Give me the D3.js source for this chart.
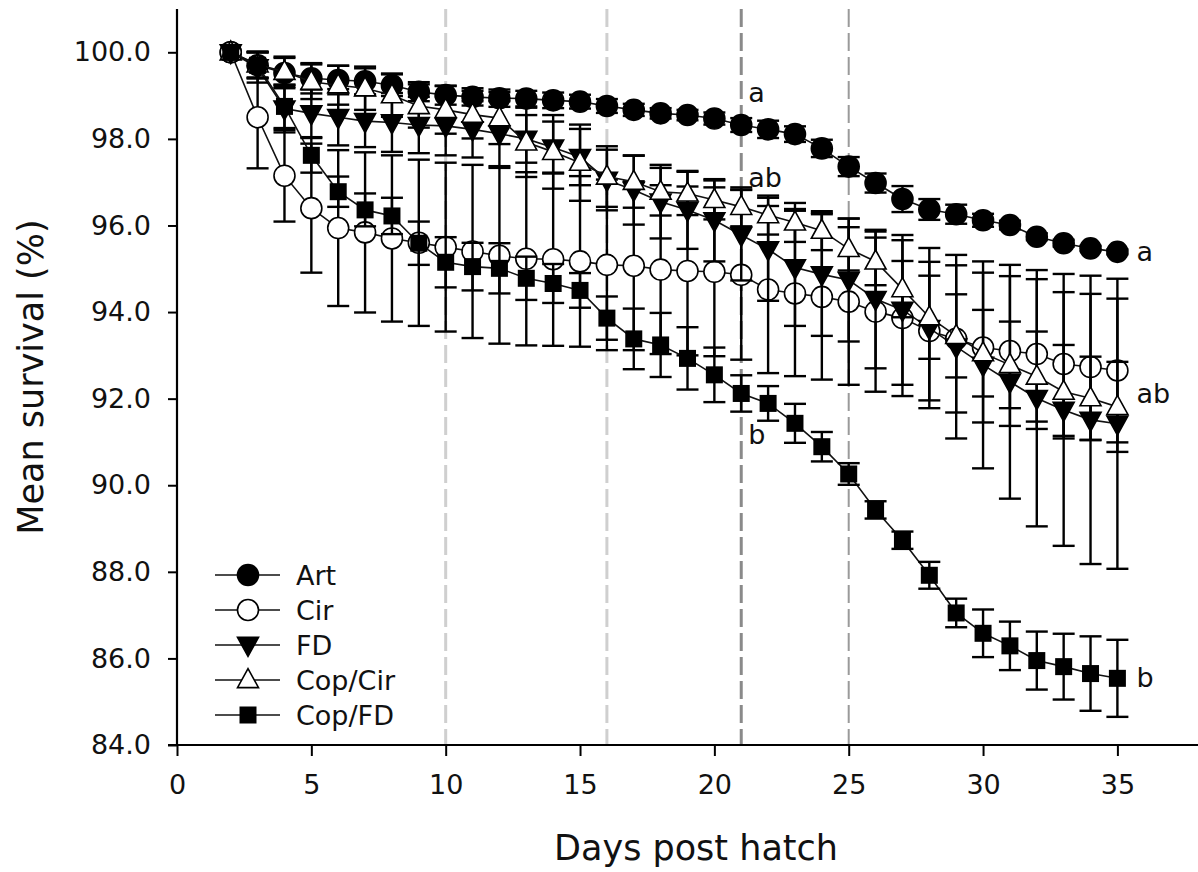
<!DOCTYPE html>
<html>
<head>
<meta charset="utf-8">
<script src="https://cdn.jsdelivr.net/npm/d3@7"></script>
<style>
  html, body { margin: 0; padding: 0; background: #fff; }
  svg { display: block; font-family: "DejaVu Sans", Verdana, sans-serif; }
</style>
</head>
<body>
<svg id="chart" width="1198" height="872"></svg>
<script>
// Days post hatch
const days = [2,3,4,5,6,7,8,9,10,11,12,13,14,15,16,17,18,19,20,21,22,23,24,25,26,27,28,29,30,31,32,33,34,35];

// Mean survival (%) per diet, with error (±)
const art      = [100.0,99.70,99.52,99.40,99.36,99.33,99.24,99.09,99.01,98.97,98.94,98.93,98.89,98.86,98.76,98.67,98.59,98.55,98.47,98.32,98.22,98.11,97.78,97.36,96.98,96.61,96.37,96.26,96.12,96.01,95.74,95.59,95.47,95.39];
const artErr   = [0,0.30,0.35,0.35,0.33,0.30,0.25,0.22,0.22,0.20,0.20,0.18,0.18,0.16,0.16,0.14,0.12,0.12,0.14,0.16,0.20,0.18,0.20,0.22,0.22,0.30,0.24,0.22,0.15,0.10,0.08,0.08,0.06,0.06];

const cir      = [100.0,98.50,97.15,96.40,95.94,95.84,95.70,95.60,95.50,95.40,95.30,95.23,95.22,95.17,95.09,95.07,94.98,94.95,94.93,94.86,94.52,94.43,94.35,94.24,94.01,93.86,93.56,93.38,93.18,93.10,93.03,92.80,92.73,92.65];
const cirErr   = [0,1.18,1.06,1.49,1.80,1.85,1.92,1.92,1.95,2.00,2.03,2.00,2.00,1.97,1.97,1.95,1.95,1.95,1.95,1.96,1.93,1.91,1.91,1.92,1.85,1.80,1.60,1.70,1.73,1.73,1.73,1.66,1.69,1.66];

const fd       = [100.0,99.65,98.70,98.59,98.50,98.41,98.38,98.32,98.30,98.22,98.12,98.00,97.80,97.58,97.05,96.82,96.55,96.36,96.12,95.78,95.45,95.03,94.87,94.74,94.30,94.05,93.63,93.20,92.78,92.39,92.01,91.74,91.51,91.42];
const fdErr    = [0,0.35,0.55,0.55,0.65,0.60,0.68,0.65,0.68,0.65,0.75,0.55,0.60,0.65,0.70,0.80,0.85,0.90,0.95,1.05,1.19,1.35,1.42,1.42,1.60,1.73,1.85,2.12,2.39,2.70,2.96,3.14,3.33,3.35];

const copCir   = [100.0,99.72,99.55,99.32,99.24,99.17,99.01,98.76,98.67,98.56,98.48,97.92,97.70,97.45,97.13,97.01,96.78,96.74,96.59,96.43,96.24,96.07,95.88,95.46,95.17,94.53,93.88,93.45,93.05,92.78,92.51,92.16,92.01,91.81];
const copCirErr= [0,0.30,0.35,0.40,0.45,0.50,0.50,0.50,0.55,0.55,0.60,0.80,0.85,0.88,0.70,0.60,0.55,0.50,0.45,0.45,0.45,0.45,0.45,0.50,0.55,0.65,0.96,0.96,1.00,1.00,1.04,1.08,0.96,1.04];

const copFd    = [100.0,99.70,98.75,97.62,96.78,96.36,96.22,95.59,95.15,95.05,95.01,94.78,94.66,94.50,93.86,93.38,93.24,92.93,92.55,92.12,91.89,91.43,90.89,90.26,89.43,88.73,87.92,87.05,86.58,86.29,85.95,85.81,85.65,85.54];
const copFdErr = [0,0.30,0.50,0.40,0.35,0.38,0.42,0.50,0.58,0.55,0.58,0.50,0.45,0.40,0.50,0.70,0.74,0.72,0.63,0.42,0.40,0.45,0.34,0.25,0.20,0.20,0.31,0.33,0.55,0.56,0.67,0.76,0.86,0.89];

const seriesNames = ["Art","Cir","FD","Cop/Cir","Cop/FD"];
const seriesMarkers = ["circleFilled","circleOpen","triangleDown","triangleUp","square"];

// Period boundaries (days) and significance letters
const phaseDays = [10, 16, 21, 25];
const phaseColors = ["#cfcfcf","#cfcfcf","#8a8a8a","#9a9a9a"];
const phaseWidths = [3, 3, 3, 2];
const midLetters = [{day:21, value:98.32, text:"a", dy:-23}, {day:21, value:96.43, text:"ab", dy:-20}, {day:21, value:92.12, text:"b", dy:51}];
const endLetters = [{day:35, value:95.39, text:"a", dy:0}, {day:35, value:91.81, text:"ab", dy:-13}, {day:35, value:85.54, text:"b", dy:0}];

const yTicks = [84,86,88,90,92,94,96,98,100];
const xTicks = [0,5,10,15,20,25,30,35];

const svg = d3.select("#chart");
const x = d3.scaleLinear().domain([0, 38]).range([177, 1198]);
const y = d3.scaleLinear().domain([84, 101]).range([745, 9]);

// phase boundary lines
phaseDays.forEach((d, i) => {
  svg.append("line")
    .attr("x1", x(d)).attr("x2", x(d))
    .attr("y1", y(101)).attr("y2", y(84))
    .attr("stroke", phaseColors[i]).attr("stroke-width", phaseWidths[i])
    .attr("stroke-dasharray", "18,6");
});

// axes
const fontSize = 27;
const xAxis = svg.append("g").attr("transform", `translate(0,${y(84)})`)
  .call(d3.axisBottom(x).tickValues(xTicks).tickSize(11).tickPadding(19).tickFormat(d3.format("d")));
const yAxis = svg.append("g").attr("transform", `translate(${x(0)},0)`)
  .call(d3.axisLeft(y).tickValues(yTicks).tickSize(9).tickPadding(17).tickFormat(d3.format(".1f")));
[xAxis, yAxis].forEach(g => {
  g.select(".domain").attr("stroke", "#000").attr("stroke-width", 2.2);
  g.selectAll(".tick line").attr("stroke", "#000").attr("stroke-width", 2);
  g.selectAll(".tick text").attr("fill", "#111").style("font-size", fontSize + "px")
    .style("font-family", '"DejaVu Sans", Verdana, sans-serif');
});
// extend the y axis line to the top of the frame and x axis a bit left
yAxis.select(".domain").attr("d", `M-9,${y(84)}H0V${y(101)}`);
xAxis.select(".domain").attr("d", `M${x(0)-9},0H1198`);

// axis titles
svg.append("text")
  .attr("x", 696).attr("y", 860)
  .attr("text-anchor", "middle").style("font-size", "35px").attr("fill", "#111")
  .text("Days post hatch");
svg.append("text")
  .attr("transform", `translate(43,${(y(101) + y(84)) / 2}) rotate(-90)`)
  .attr("text-anchor", "middle").style("font-size", "35px").attr("fill", "#111")
  .text("Mean survival (%)");

// marker shapes
function marker(sel, kind) {
  if (kind === "circleFilled" || kind === "circleOpen") {
    sel.append("circle").attr("r", 10.5)
      .attr("fill", kind === "circleFilled" ? "#000" : "#fff")
      .attr("stroke", "#000").attr("stroke-width", 1.6);
  } else if (kind === "square") {
    sel.append("rect").attr("x", -8.5).attr("y", -8.5).attr("width", 17).attr("height", 17)
      .attr("fill", "#000");
  } else {
    const w = 21, h = 19;
    const p = kind === "triangleUp"
      ? `M0,${-h*0.6}L${w/2},${h*0.4}L${-w/2},${h*0.4}Z`
      : `M0,${h*0.6}L${w/2},${-h*0.4}L${-w/2},${-h*0.4}Z`;
    sel.append("path").attr("d", p)
      .attr("fill", kind === "triangleUp" ? "#fff" : "#000")
      .attr("stroke", "#000").attr("stroke-width", 1.6).attr("stroke-linejoin", "miter");
  }
}

const seriesData = [
  [art, artErr], [cir, cirErr], [fd, fdErr], [copCir, copCirErr], [copFd, copFdErr]
];

const line = d3.line().x(d => x(d.day)).y(d => y(d.v));
seriesData.forEach(([vals, errs], si) => {
  const pts = days.map((d, i) => ({day: d, v: vals[i], e: errs[i]}));
  const g = svg.append("g");
  g.append("path").datum(pts).attr("d", line)
    .attr("fill", "none").attr("stroke", "#111").attr("stroke-width", 1.6);
  const eb = g.append("g").selectAll("g").data(pts.filter(p => p.e > 0)).join("g")
    .attr("stroke", "#000").attr("stroke-width", 2.4);
  eb.append("line").attr("x1", p => x(p.day)).attr("x2", p => x(p.day))
    .attr("y1", p => y(p.v + p.e)).attr("y2", p => y(p.v - p.e));
  eb.append("line").attr("x1", p => x(p.day) - 11).attr("x2", p => x(p.day) + 11)
    .attr("y1", p => y(p.v + p.e)).attr("y2", p => y(p.v + p.e));
  eb.append("line").attr("x1", p => x(p.day) - 11).attr("x2", p => x(p.day) + 11)
    .attr("y1", p => y(p.v - p.e)).attr("y2", p => y(p.v - p.e));
  g.append("g").selectAll("g").data(pts).join("g")
    .attr("transform", p => `translate(${x(p.day)},${y(p.v)})`)
    .each(function() { marker(d3.select(this), seriesMarkers[si]); });
});

// significance letters
midLetters.forEach(l => {
  svg.append("text").attr("x", x(l.day) + 7).attr("y", y(l.value) + l.dy)
    .style("font-size", fontSize + "px").attr("fill", "#111").text(l.text);
});
endLetters.forEach(l => {
  svg.append("text").attr("x", x(l.day) + 19).attr("y", y(l.value) + 9 + l.dy)
    .style("font-size", fontSize + "px").attr("fill", "#111").text(l.text);
});

// legend
const legend = svg.append("g").attr("transform", "translate(215,575)");
seriesNames.forEach((name, i) => {
  const row = legend.append("g").attr("transform", `translate(0,${i * 35})`);
  row.append("line").attr("x1", 0).attr("x2", 65).attr("y1", 0).attr("y2", 0)
    .attr("stroke", "#111").attr("stroke-width", 1.6);
  const m = row.append("g").attr("transform", "translate(33,0)");
  marker(m, seriesMarkers[i]);
  row.append("text").attr("x", 81).attr("y", 10)
    .style("font-size", fontSize + "px").attr("fill", "#111").text(name);
});
</script>
</body>
</html>
